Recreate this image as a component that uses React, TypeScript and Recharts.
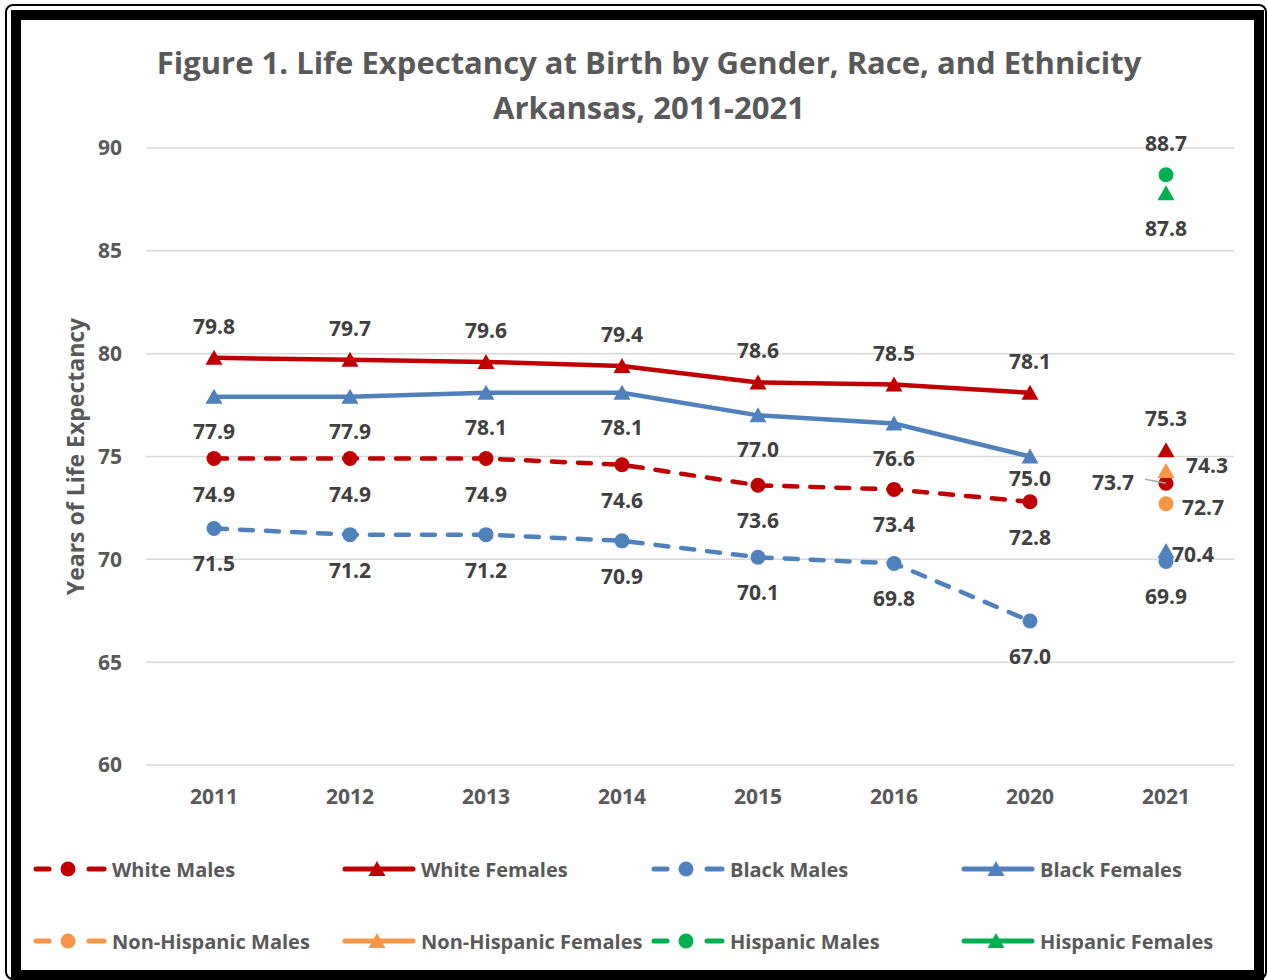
import React from "react";
import { CartesianGrid, LabelList, Line, LineChart, XAxis, YAxis } from "recharts";

// categories and values
const years = ["2011", "2012", "2013", "2014", "2015", "2016", "2020", "2021"];
const whiteMales = [74.9, 74.9, 74.9, 74.6, 73.6, 73.4, 72.8, 73.7];
const whiteFemales = [79.8, 79.7, 79.6, 79.4, 78.6, 78.5, 78.1, 75.3];
const blackMales = [71.5, 71.2, 71.2, 70.9, 70.1, 69.8, 67.0, 69.9];
const blackFemales = [77.9, 77.9, 78.1, 78.1, 77.0, 76.6, 75.0, 70.4];
const nonHispanicMales = [null, null, null, null, null, null, null, 72.7];
const nonHispanicFemales = [null, null, null, null, null, null, null, 74.3];
const hispanicMales = [null, null, null, null, null, null, null, 88.7];
const hispanicFemales = [null, null, null, null, null, null, null, 87.8];
const yTicks = [60, 65, 70, 75, 80, 85, 90];

// the 2021 estimates are not joined to the earlier trend
const lastTrendIndex = 6;

const RED = "#C00000";
const BLUE = "#4F81BD";
const ORANGE = "#F79646";
const GREEN = "#00B050";
const TEXT = "#595959";
const LABEL = "#404040";
const FONT = "'Open Sans', sans-serif";

const data = years.map((year, i) => {
    const trend = (arr: (number | null)[]) => (i <= lastTrendIndex ? arr[i] : null);
    const last = (arr: (number | null)[]) => (i > lastTrendIndex ? arr[i] : null);
    return {
        year,
        wm: trend(whiteMales),
        wf: trend(whiteFemales),
        bm: trend(blackMales),
        bf: trend(blackFemales),
        wm21: last(whiteMales),
        wf21: last(whiteFemales),
        bm21: last(blackMales),
        bf21: last(blackFemales),
        nhm: nonHispanicMales[i],
        nhf: nonHispanicFemales[i],
        hm: hispanicMales[i],
        hf: hispanicFemales[i],
    };
});

type Shape = "circle" | "triangle";

function Marker({ cx, cy, shape, color }: { cx: number; cy: number; shape: Shape; color: string }) {
    if (shape === "circle") return <circle cx={cx} cy={cy} r={7.5} fill={color} />;
    return <path d={`M${cx},${cy - 8} L${cx + 8.5},${cy + 7} L${cx - 8.5},${cy + 7} Z`} fill={color} />;
}

const makeDot = (shape: Shape, color: string) => (props: any) => {
    const { cx, cy, index, value } = props;
    if (cx == null || cy == null || value == null) return <g key={`d-${index}`} />;
    return <Marker key={`d-${index}`} cx={cx} cy={cy} shape={shape} color={color} />;
};

type LabelSpec = { dx?: number; dy?: number; anchor?: "start" | "middle" | "end"; leader?: boolean };

const makeLabel = (spec: LabelSpec, overrides: Record<number, LabelSpec> = {}) => (props: any) => {
    const { x, y, value, index } = props;
    if (value == null || x == null || y == null) return null;
    const s = { ...spec, ...(overrides[index] || {}) };
    return (
        <g>
            {s.leader && (
                <line x1={x - 21} y1={y - 4} x2={x} y2={y} stroke="#A6A6A6" strokeWidth={1.5} />
            )}
            <text
                x={x + (s.dx || 0)}
                y={y + (s.dy || 0)}
                textAnchor={s.anchor || "middle"}
                dominantBaseline="central"
                fill={LABEL}
                fontFamily={FONT}
                fontWeight={700}
                fontSize={21}
            >
                {Number(value).toFixed(1)}
            </text>
        </g>
    );
};

const legendItems = [
    { name: "White Males", color: RED, shape: "circle" as Shape, dashed: true },
    { name: "White Females", color: RED, shape: "triangle" as Shape, dashed: false },
    { name: "Black Males", color: BLUE, shape: "circle" as Shape, dashed: true },
    { name: "Black Females", color: BLUE, shape: "triangle" as Shape, dashed: false },
    { name: "Non-Hispanic Males", color: ORANGE, shape: "circle" as Shape, dashed: true },
    { name: "Non-Hispanic Females", color: ORANGE, shape: "triangle" as Shape, dashed: false },
    { name: "Hispanic Males", color: GREEN, shape: "circle" as Shape, dashed: true },
    { name: "Hispanic Females", color: GREEN, shape: "triangle" as Shape, dashed: false },
];

function LegendIcon({ color, shape, dashed }: { color: string; shape: Shape; dashed: boolean }) {
    return (
        <svg width={76} height={20} style={{ display: "block" }}>
            {dashed ? (
                <>
                    <line x1={3} y1={10} x2={16} y2={10} stroke={color} strokeWidth={5} strokeLinecap="round" />
                    <line x1={56} y1={10} x2={71} y2={10} stroke={color} strokeWidth={5} strokeLinecap="round" />
                </>
            ) : (
                <line x1={3} y1={10} x2={71} y2={10} stroke={color} strokeWidth={5} strokeLinecap="round" />
            )}
            <Marker cx={35} cy={10} shape={shape} color={color} />
        </svg>
    );
}

const colX = [33, 342, 651, 961];
const rowY = [869, 941];

export default function App() {
    const dash = "13 13";
    return (
        <div style={{ position: "absolute", left: 0, top: 0, width: 1267, height: 980, background: "#fff", overflow: "hidden" }}>
            <div style={{ position: "absolute", left: 5, top: 4, width: 1262, height: 976, border: "2px solid #000", borderRadius: 8, boxSizing: "border-box" }} />
            <div style={{ position: "absolute", left: 11, top: 10, width: 1253, height: 970, border: "10px solid #000", boxSizing: "border-box" }} />

            <div style={{ position: "absolute", left: 0, top: 40, width: 1298, textAlign: "center", color: TEXT, fontFamily: FONT, fontWeight: 700, fontSize: 31, lineHeight: "45px" }}>
                Figure 1. Life Expectancy at Birth by Gender, Race, and Ethnicity
                <br />
                Arkansas, 2011-2021
            </div>

            <div style={{ position: "absolute", left: 0, top: 0 }}>
                <LineChart width={1267} height={980} data={data} margin={{ top: 148, right: 33, bottom: 185, left: 86 }}>
                    <CartesianGrid vertical={false} stroke="#D9D9D9" strokeWidth={1.5} />
                    <XAxis
                        dataKey="year"
                        axisLine={false}
                        tickLine={false}
                        padding={{ left: 68, right: 68 }}
                        tickMargin={18}
                        tick={{ fill: TEXT, fontFamily: FONT, fontWeight: 700, fontSize: 21 }}
                    />
                    <YAxis
                        width={60}
                        domain={[60, 90]}
                        ticks={yTicks}
                        axisLine={false}
                        tickLine={false}
                        tickMargin={18}
                        tick={{ fill: TEXT, fontFamily: FONT, fontWeight: 700, fontSize: 21 }}
                        label={{
                            content: (p: any) => {
                                const vb = p.viewBox || { x: 86, y: 148, height: 617 };
                                const cx = vb.x - 11;
                                const cy = vb.y + vb.height / 2;
                                return (
                                    <text
                                        x={cx}
                                        y={cy}
                                        transform={`rotate(-90 ${cx} ${cy})`}
                                        textAnchor="middle"
                                        dominantBaseline="central"
                                        fill={TEXT}
                                        fontFamily={FONT}
                                        fontWeight={700}
                                        fontSize={23}
                                    >
                                        Years of Life Expectancy
                                    </text>
                                );
                            },
                        }}
                    />

                    <Line dataKey="wm" name="White Males" stroke={RED} strokeWidth={4.5} strokeDasharray={dash} strokeLinecap="round" dot={makeDot("circle", RED)} isAnimationActive={false}>
                        <LabelList dataKey="wm" content={makeLabel({ dy: 35 })} />
                    </Line>
                    <Line dataKey="wf" name="White Females" stroke={RED} strokeWidth={4.5} strokeLinecap="round" dot={makeDot("triangle", RED)} isAnimationActive={false}>
                        <LabelList dataKey="wf" content={makeLabel({ dy: -32 })} />
                    </Line>
                    <Line dataKey="bm" name="Black Males" stroke={BLUE} strokeWidth={4.5} strokeDasharray={dash} strokeLinecap="round" dot={makeDot("circle", BLUE)} isAnimationActive={false}>
                        <LabelList dataKey="bm" content={makeLabel({ dy: 35 })} />
                    </Line>
                    <Line dataKey="bf" name="Black Females" stroke={BLUE} strokeWidth={4.5} strokeLinecap="round" dot={makeDot("triangle", BLUE)} isAnimationActive={false}>
                        <LabelList dataKey="bf" content={makeLabel({ dy: 34 }, { 6: { dy: 21 } })} />
                    </Line>

                    <Line dataKey="wm21" stroke="none" dot={makeDot("circle", RED)} isAnimationActive={false} legendType="none">
                        <LabelList dataKey="wm21" content={makeLabel({ dx: -53, dy: -1, leader: true })} />
                    </Line>
                    <Line dataKey="wf21" stroke="none" dot={makeDot("triangle", RED)} isAnimationActive={false} legendType="none">
                        <LabelList dataKey="wf21" content={makeLabel({ dy: -32 })} />
                    </Line>
                    <Line dataKey="bm21" stroke="none" dot={makeDot("circle", BLUE)} isAnimationActive={false} legendType="none">
                        <LabelList dataKey="bm21" content={makeLabel({ dy: 35 })} />
                    </Line>
                    <Line dataKey="bf21" stroke="none" dot={makeDot("triangle", BLUE)} isAnimationActive={false} legendType="none">
                        <LabelList dataKey="bf21" content={makeLabel({ dx: 6, dy: 3, anchor: "start" })} />
                    </Line>
                    <Line dataKey="nhm" name="Non-Hispanic Males" stroke="none" dot={makeDot("circle", ORANGE)} isAnimationActive={false}>
                        <LabelList dataKey="nhm" content={makeLabel({ dx: 16, dy: 3, anchor: "start" })} />
                    </Line>
                    <Line dataKey="nhf" name="Non-Hispanic Females" stroke="none" dot={makeDot("triangle", ORANGE)} isAnimationActive={false}>
                        <LabelList dataKey="nhf" content={makeLabel({ dx: 20, dy: -6, anchor: "start" })} />
                    </Line>
                    <Line dataKey="hm" name="Hispanic Males" stroke="none" dot={makeDot("circle", GREEN)} isAnimationActive={false}>
                        <LabelList dataKey="hm" content={makeLabel({ dy: -32 })} />
                    </Line>
                    <Line dataKey="hf" name="Hispanic Females" stroke="none" dot={makeDot("triangle", GREEN)} isAnimationActive={false}>
                        <LabelList dataKey="hf" content={makeLabel({ dy: 35 })} />
                    </Line>
                </LineChart>
            </div>

            {legendItems.map((item, i) => (
                <div
                    key={item.name}
                    style={{
                        position: "absolute",
                        left: colX[i % 4],
                        top: rowY[Math.floor(i / 4)] - 14,
                        height: 28,
                        display: "flex",
                        alignItems: "center",
                        gap: 3,
                        color: TEXT,
                        fontFamily: FONT,
                        fontWeight: 700,
                        fontSize: 20,
                        whiteSpace: "nowrap",
                    }}
                >
                    <LegendIcon color={item.color} shape={item.shape} dashed={item.dashed} />
                    <span>{item.name}</span>
                </div>
            ))}
        </div>
    );
}
